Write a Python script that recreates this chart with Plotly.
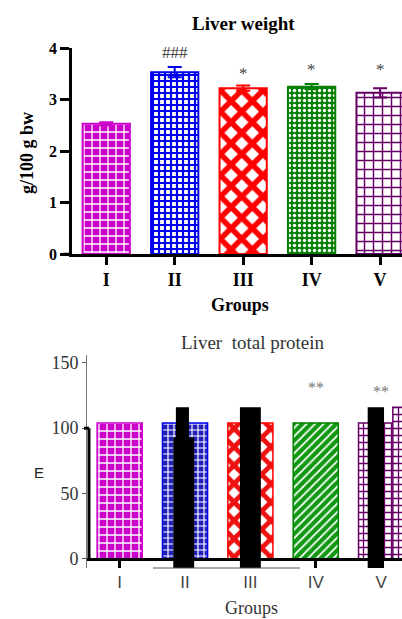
import plotly.graph_objects as go

# ---------------- data ----------------
groups = ["I", "II", "III", "IV", "V"]
weight = [2.53, 3.53, 3.22, 3.25, 3.13]
weight_err = [0.03, 0.10, 0.05, 0.05, 0.09]
weight_sig = ["", "###", "*", "*", "*"]
weight_sig_y = [0, 3.92, 3.50, 3.58, 3.58]
weight_ticks = [0, 1, 2, 3, 4]

protein = [104, 104, 104, 104, 104]
protein_sig = ["", "", "", "**", "**"]
protein_sig_y = [0, 0, 0, 131, 128]
protein_ticks = [0, 50, 100, 150]

# dark overlay blocks seen in the lower panel (scan artefacts)
block_x = [0.96, 0.98, 2.0, 3.92]
block_base = [-8, -8, -8, -8]
block_top = [116, 93, 116, 116]
block_w = [0.2, 0.32, 0.32, 0.25]
extra_x = [4.33]
extra_val = [116]

colors = ["#CC00CC", "#0000EE", "#FF0000", "#008000", "#660066"]

def pat(shape, bg, fg, size, sol):
    return dict(shape=shape, bgcolor=bg, fgcolor=fg, size=size, solidity=sol,
                fgopacity=1, fillmode="replace")

top_patterns = [
    pat("+", "#CC00CC", "white", 8, 0.3),
    pat("+", "white", "#0000EE", 6, 0.6),
    pat("x", "white", "#FF0000", 15, 0.6),
    pat(".", "#008000", "white", 5, 0.35),
    pat("+", "white", "#660066", 9, 0.3),
]
bot_patterns = [
    pat("+", "#CC00CC", "white", 8, 0.3),
    pat("+", "#2222BB", "white", 6, 0.35),
    pat("x", "white", "#EE1111", 13, 0.6),
    pat("/", "#119911", "white", 6, 0.3),
    pat("+", "white", "#660066", 7, 0.35),
]

W, H = 402, 619
BAR_W = 0.69

fig = go.Figure()

# ---- top panel ----
for i, g in enumerate(groups):
    fig.add_trace(go.Bar(
        x=[i], y=[weight[i]], width=BAR_W, xaxis="x", yaxis="y",
        marker=dict(color=colors[i], pattern=top_patterns[i], opacity=1,
                    line=dict(color=colors[i], width=2)),
        error_y=dict(type="data", array=[weight_err[i]], symmetric=True,
                     color=colors[i], thickness=2, width=7),
        showlegend=False, hoverinfo="skip"))

# ---- bottom panel ----
for i, g in enumerate(groups):
    fig.add_trace(go.Bar(
        x=[i], y=[protein[i]], width=BAR_W, xaxis="x2", yaxis="y2",
        marker=dict(color=colors[i], pattern=bot_patterns[i], opacity=1,
                    line=dict(color=colors[i], width=1.5)),
        showlegend=False, hoverinfo="skip"))

fig.add_trace(go.Bar(
    x=extra_x, y=extra_val, width=0.3, xaxis="x2", yaxis="y2",
    marker=dict(color=colors[4], pattern=bot_patterns[4],
                line=dict(color=colors[4], width=1.5)),
    showlegend=False, hoverinfo="skip"))

fig.add_trace(go.Bar(
    x=block_x, y=[t - b for t, b in zip(block_top, block_base)], base=block_base,
    width=block_w, xaxis="x2", yaxis="y2",
    marker=dict(color="black", line=dict(width=0)),
    showlegend=False, hoverinfo="skip", cliponaxis=False))

serif = "Liberation Serif"
sans = "Liberation Sans"

def py(px):
    return 1 - px / H

def pxx(px):
    return px / W

annotations = []
for i, s in enumerate(weight_sig):
    if s:
        annotations.append(dict(x=i, y=weight_sig_y[i], xref="x", yref="y", text=s,
                                xanchor="center", yanchor="middle",
                                showarrow=False, font=dict(family=serif, size=17, color="#444")))
for i, s in enumerate(protein_sig):
    if s:
        annotations.append(dict(x=i, y=protein_sig_y[i], xref="x2", yref="y2", text=s,
                                xanchor="center", yanchor="middle",
                                showarrow=False, font=dict(family=serif, size=16, color="#777")))

def lab(x, y, text, font, angle=0):
    return dict(x=pxx(x), y=py(y), xref="paper", yref="paper", text=text,
                xanchor="center", yanchor="middle", textangle=angle,
                showarrow=False, font=font)

annotations += [
    lab(243, 24, "<b>Liver weight</b>", dict(family=serif, size=19, color="black")),
    lab(27, 153, "<b>g/100 g bw</b>", dict(family=serif, size=18, color="black"), -90),
    lab(240, 305, "<b>Groups</b>", dict(family=serif, size=18, color="black")),
    lab(252, 342, "Liver  total protein", dict(family=serif, size=19, color="#333")),
    lab(39, 472, "E", dict(family=sans, size=15, color="#222")),
    lab(251, 608, "Groups", dict(family=serif, size=18, color="#333")),
]

shapes = [
    # thick lower part of the left axis of the bottom panel
    dict(type="line", xref="paper", yref="y2", x0=pxx(89), x1=pxx(89), y0=0, y1=100,
         line=dict(color="black", width=3)),
    dict(type="line", xref="paper", yref="y2", x0=pxx(84), x1=pxx(89), y0=100, y1=100,
         line=dict(color="black", width=3)),
    # thin line under the bottom x axis
    dict(type="line", xref="paper", yref="paper", x0=pxx(153), x1=pxx(300),
         y0=py(568), y1=py(568), line=dict(color="#555", width=1)),
    # left extension of top x axis
    dict(type="line", xref="paper", yref="paper", x0=pxx(63), x1=pxx(72),
         y0=py(254), y1=py(254), line=dict(color="black", width=2.5)),
]

fig.update_layout(
    width=W, height=H, margin=dict(l=0, r=0, t=0, b=0, autoexpand=False),
    plot_bgcolor="white", paper_bgcolor="white",
    barmode="overlay", showlegend=False,
    xaxis=dict(domain=[pxx(72), 1], range=[-0.5, 4.32], anchor="y",
               tickvals=list(range(len(groups))),
               ticktext=["<b>%s</b>" % g for g in groups],
               showline=True, linecolor="black", linewidth=2.5,
               ticks="outside", ticklen=8, tickwidth=2.5, tickcolor="black",
               showgrid=False, zeroline=False,
               tickfont=dict(family=serif, size=18, color="black")),
    yaxis=dict(domain=[py(254), py(48)], range=[0, 4], anchor="x",
               tickvals=weight_ticks,
               ticktext=["<b>%d</b>" % t for t in weight_ticks],
               showline=True, linecolor="black", linewidth=2.5,
               ticks="outside", ticklen=9, tickwidth=2.5, tickcolor="black",
               showgrid=False, zeroline=False,
               tickfont=dict(family=serif, size=16, color="black")),
    xaxis2=dict(domain=[pxx(87), 1], range=[-0.5, 4.32], anchor="free", position=py(559),
                tickvals=list(range(len(groups))), ticktext=groups,
                showline=True, linecolor="black", linewidth=3,
                ticks="outside", ticklen=7, tickwidth=3, tickcolor="black",
                showgrid=False, zeroline=False,
                tickfont=dict(family=sans, size=17, color="#444")),
    yaxis2=dict(domain=[py(568), py(355)], range=[-7, 156], anchor="x2",
                tickvals=protein_ticks,
                showline=True, linecolor="#777", linewidth=1,
                ticks="outside", ticklen=4, tickwidth=1, tickcolor="#555",
                showgrid=False, zeroline=False,
                tickfont=dict(family=serif, size=18, color="#333")),
    annotations=annotations, shapes=shapes,
)

fig.write_html("out.html", config={"displayModeBar": False},
               post_script="document.body.style.margin='0';document.body.style.overflow='hidden';")
